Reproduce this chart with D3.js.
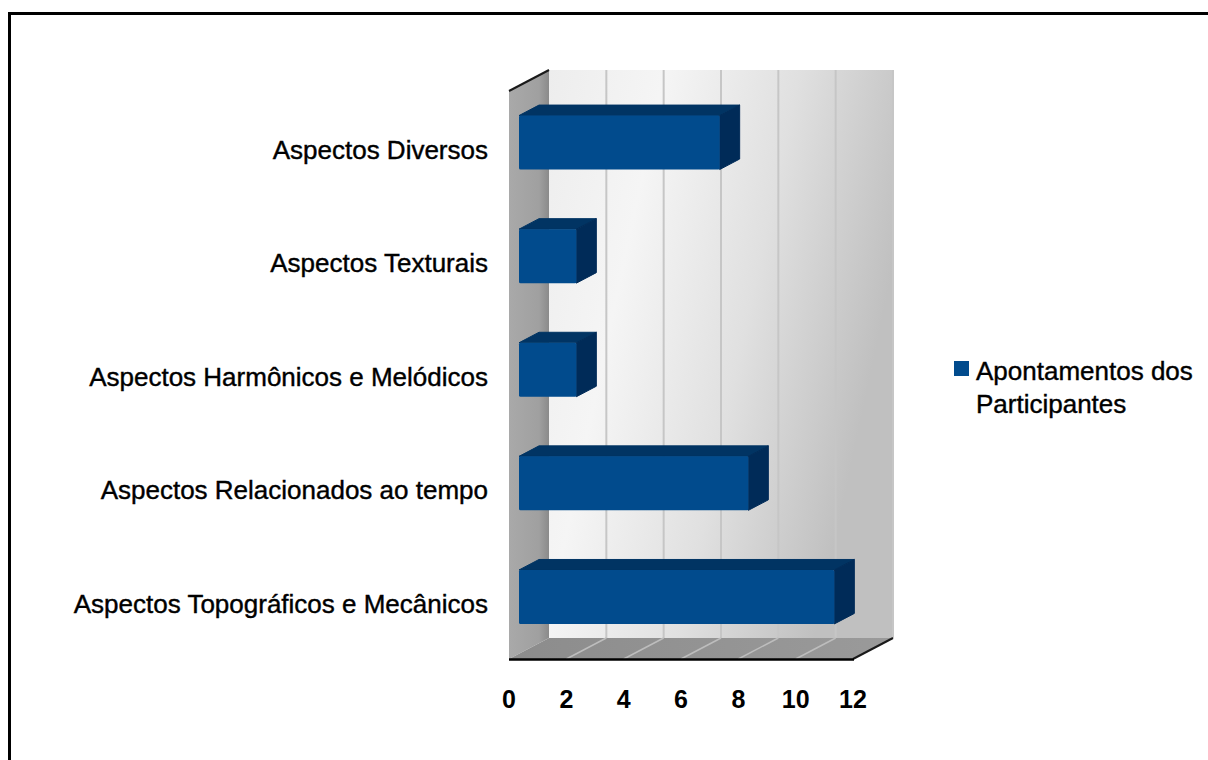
<!DOCTYPE html>
<html>
<head>
<meta charset="utf-8">
<script src="https://cdn.jsdelivr.net/npm/d3@7/dist/d3.min.js"></script>
<style>
  html, body { margin: 0; padding: 0; background: #fff; }
  svg { display: block; }
</style>
</head>
<body>
<svg id="chart" width="1208" height="760"></svg>
<script>
// Categories from top to bottom, with the count for each one
const categories = [
  "Aspectos Diversos",
  "Aspectos Texturais",
  "Aspectos Harmônicos e Melódicos",
  "Aspectos Relacionados ao tempo",
  "Aspectos Topográficos e Mecânicos"
];
const values = [7, 2, 2, 8, 11];
const tickValues = [0, 2, 4, 6, 8, 10, 12];
const seriesName = ["Apontamentos dos", "Participantes"];

const svg = d3.select("#chart");
const defs = svg.append("defs");

// Front plane of the 3D box and the depth offset of the back wall
const plot = { left: 509, right: 853, top: 91, bottom: 659 };
const depth = { dx: 40, dy: -21 };

const x = d3.scaleLinear().domain([0, 12]).range([plot.left, plot.right]);
const y = d3.scaleBand().domain(categories).range([plot.top, plot.bottom]).paddingInner(0.525).paddingOuter(0.2625);

const font = "Liberation Sans, Arial, sans-serif";

// Outer frame
svg.append("rect")
  .attr("x", 9.5).attr("y", 13.5)
  .attr("width", 1400).attr("height", 1000)
  .attr("fill", "none").attr("stroke", "#000").attr("stroke-width", 3);

// Gradients for the walls
const backGrad = defs.append("linearGradient").attr("id", "backWall")
  .attr("x1", "0").attr("y1", "0").attr("x2", "1").attr("y2", "0.35");
backGrad.append("stop").attr("offset", "0").attr("stop-color", "#ededed");
backGrad.append("stop").attr("offset", "0.3").attr("stop-color", "#f5f5f5");
backGrad.append("stop").attr("offset", "0.65").attr("stop-color", "#e0e0e0");
backGrad.append("stop").attr("offset", "1").attr("stop-color", "#c0c0c0");

const sideGrad = defs.append("linearGradient").attr("id", "sideWall")
  .attr("x1", "0").attr("y1", "0").attr("x2", "1").attr("y2", "0");
sideGrad.append("stop").attr("offset", "0").attr("stop-color", "#a9a9a9");
sideGrad.append("stop").attr("offset", "0.75").attr("stop-color", "#a0a0a0");
sideGrad.append("stop").attr("offset", "1").attr("stop-color", "#8a8a8a");

const floorGrad = defs.append("linearGradient").attr("id", "floor")
  .attr("x1", "0").attr("y1", "0").attr("x2", "1").attr("y2", "0");
floorGrad.append("stop").attr("offset", "0").attr("stop-color", "#8c8c8c");
floorGrad.append("stop").attr("offset", "1").attr("stop-color", "#9a9a9a");

const pt = (px, py) => px + "," + py;

// Back wall
const bx0 = x(0) + depth.dx, bx1 = x(12) + depth.dx;
const by0 = plot.top + depth.dy, by1 = plot.bottom + depth.dy;
svg.append("rect")
  .attr("x", bx0).attr("y", by0)
  .attr("width", bx1 - bx0).attr("height", by1 - by0)
  .attr("fill", "url(#backWall)");

// Left side wall
svg.append("polygon")
  .attr("points", [pt(plot.left, plot.top), pt(bx0, by0), pt(bx0, by1), pt(plot.left, plot.bottom)].join(" "))
  .attr("fill", "url(#sideWall)");

// Floor
svg.append("polygon")
  .attr("points", [pt(plot.left, plot.bottom), pt(bx0, by1), pt(bx1, by1), pt(plot.right, plot.bottom)].join(" "))
  .attr("fill", "url(#floor)");

// Gridlines on the back wall
svg.append("g").selectAll("line.grid")
  .data(tickValues.slice(1))
  .join("line")
  .attr("x1", d => x(d) + depth.dx).attr("x2", d => x(d) + depth.dx)
  .attr("y1", by0).attr("y2", by1)
  .attr("stroke", "#c6c6c6").attr("stroke-width", 2);

// Gridlines across the floor
svg.append("g").selectAll("line.floorgrid")
  .data(tickValues.slice(1, -1))
  .join("line")
  .attr("x1", d => x(d) + depth.dx).attr("y1", by1)
  .attr("x2", d => x(d)).attr("y2", plot.bottom)
  .attr("stroke", "#bdbdbd").attr("stroke-width", 1.5);

// Dark edges on the top of the side wall and the right of the floor
svg.append("line")
  .attr("x1", plot.left).attr("y1", plot.top)
  .attr("x2", bx0).attr("y2", by0)
  .attr("stroke", "#1a1a1a").attr("stroke-width", 2);
svg.append("line")
  .attr("x1", plot.right).attr("y1", plot.bottom)
  .attr("x2", bx1).attr("y2", by1)
  .attr("stroke", "#1a1a1a").attr("stroke-width", 2);

// Front edge of the floor (value axis line)
svg.append("line")
  .attr("x1", plot.left).attr("x2", plot.right + 1)
  .attr("y1", plot.bottom + 0.5).attr("y2", plot.bottom + 0.5)
  .attr("stroke", "#000").attr("stroke-width", 2.5);

// 3D bars: front face sits at a quarter of the depth, back face at three quarters
const f0 = 0.25, f1 = 0.75;
const bars = svg.append("g").selectAll("g.bar")
  .data(categories.map((c, i) => ({ c, v: values[i] })))
  .join("g");

bars.each(function (d) {
  const g = d3.select(this);
  const xl = x(0) + depth.dx * f0, xr = x(d.v) + depth.dx * f0;
  const yt = y(d.c) + depth.dy * f0, yb = y(d.c) + y.bandwidth() + depth.dy * f0;
  const ox = depth.dx * (f1 - f0), oy = depth.dy * (f1 - f0);
  // top face
  g.append("polygon")
    .attr("points", [pt(xl, yt), pt(xl + ox, yt + oy), pt(xr + ox, yt + oy), pt(xr, yt)].join(" "))
    .attr("fill", "#013463").attr("stroke", "#013463").attr("stroke-width", 1).attr("stroke-linejoin", "round");
  // right side face
  g.append("polygon")
    .attr("points", [pt(xr, yt), pt(xr + ox, yt + oy), pt(xr + ox, yb + oy), pt(xr, yb)].join(" "))
    .attr("fill", "#002b58").attr("stroke", "#002b58").attr("stroke-width", 1).attr("stroke-linejoin", "round");
  // front face
  g.append("rect")
    .attr("x", xl).attr("y", yt)
    .attr("width", xr - xl).attr("height", yb - yt)
    .attr("rx", 1.5)
    .attr("fill", "#014b8d");
});

// Category labels
svg.append("g").selectAll("text.cat")
  .data(categories)
  .join("text")
  .attr("x", 488)
  .attr("y", d => y(d) + y.bandwidth() / 2 + 4)
  .attr("text-anchor", "end")
  .attr("dominant-baseline", "middle")
  .attr("font-family", font)
  .attr("font-size", 26)
  .attr("fill", "#000")
  .attr("stroke", "#000").attr("stroke-width", 0.4)
  .text(d => d);

// Value axis tick labels
svg.append("g").selectAll("text.tick")
  .data(tickValues)
  .join("text")
  .attr("x", d => x(d))
  .attr("y", 701)
  .attr("text-anchor", "middle")
  .attr("dominant-baseline", "middle")
  .attr("font-family", font)
  .attr("font-weight", "bold")
  .attr("font-size", 25)
  .attr("fill", "#000")
  .text(d => d);

// Legend
const legend = svg.append("g").attr("transform", "translate(954,361)");
legend.append("rect")
  .attr("x", 0).attr("y", 0).attr("width", 15).attr("height", 15)
  .attr("fill", "#014b8d");
legend.append("text")
  .attr("x", 22).attr("y", 19)
  .attr("font-family", font)
  .attr("font-size", 26)
  .attr("fill", "#000")
  .attr("stroke", "#000").attr("stroke-width", 0.4)
  .selectAll("tspan")
  .data(seriesName)
  .join("tspan")
  .attr("x", 22)
  .attr("dy", (d, i) => i === 0 ? 0 : 33)
  .text(d => d);
</script>
</body>
</html>
